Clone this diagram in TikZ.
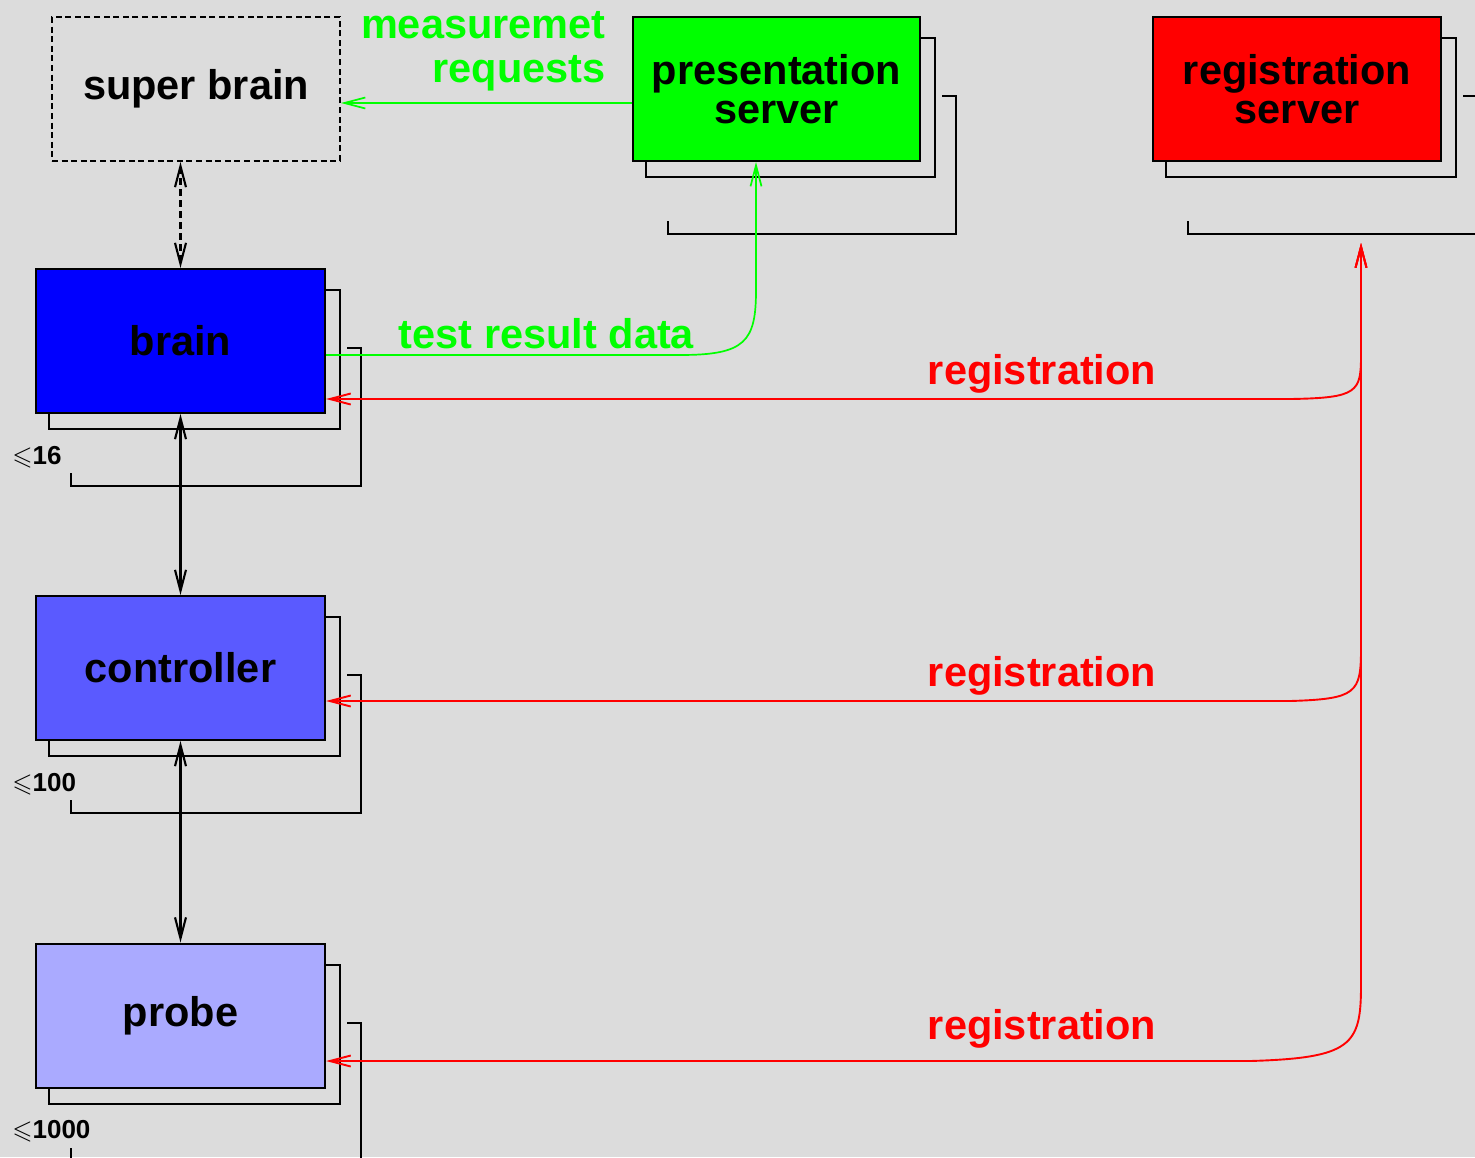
\documentclass[tikz,border=0pt]{standalone}
\usepackage{fontspec}
\usepackage{amssymb}
\setmainfont{Liberation Sans}
\usetikzlibrary{arrows.meta,calc}

\definecolor{canvas}{RGB}{220,220,220}
\definecolor{brainblue}{RGB}{0,0,255}
\definecolor{ctrlblue}{RGB}{90,90,255}
\definecolor{probeblue}{RGB}{170,170,255}
\definecolor{linkgreen}{RGB}{0,255,0}
\definecolor{linkred}{RGB}{255,0,0}

\newcommand\boxfont{\fontsize{20.75pt}{19.5pt}\selectfont\bfseries}
\newcommand\lblfont{\fontsize{20.75pt}{21.5pt}\selectfont\bfseries}
\newcommand\cntfont{\fontsize{13pt}{15pt}\selectfont\bfseries}

\tikzset{
  unitbox/.style={draw=black, line width=1pt, minimum width=144.5pt,
    minimum height=72pt, inner sep=0pt, font=\boxfont, align=center},
  layer/.style={draw=black, line width=1pt},
  tipv/.tip={Straight Barb[length=10.5pt,width=5.5pt]},
  link/.style={draw=black, line width=1.05pt, tipv-tipv},
  greenlink/.style={draw=linkgreen, line width=0.85pt, -tipv},
  reglink/.style={draw=linkred, line width=0.95pt, tipv-tipv},
  greenlbl/.style={text=linkgreen, font=\lblfont, inner sep=0pt},
  redlbl/.style={text=linkred, font=\lblfont, inner sep=0pt},
  cntlbl/.style={font=\cntfont, inner sep=0pt, anchor=base west},
}

% shadow outlines of the stacked copies behind a box
\newcommand\stackback[1]{%
  \draw[layer] ($(#1.north east)+(0,22)$) -- ($(#1.north east)+(14,22)$)
    -- ($(#1.south east)+(14,15)$) -- ($(#1.south west)+(14,15)$)
    -- ($(#1.south west)+(14,0)$);
  \draw[layer] ($(#1.north east)+(21,80)$) -- ($(#1.north east)+(35,80)$)
    -- ($(#1.south east)+(35,72)$) -- ($(#1.south west)+(36,72)$)
    -- ($(#1.south west)+(36,59)$);
}

\begin{document}
\begin{tikzpicture}[x=0.5pt,y=-0.5pt]
  \clip (0,0) rectangle (1475,1157);
  \fill[canvas] (0,0) rectangle (1475,1157);

  % boxes
  \node[unitbox, dashed, dash pattern=on 3pt off 1.8pt, minimum width=144pt]
    (superbrain) at (196,89) {super brain};
  \node[unitbox, fill=linkgreen, minimum width=143.5pt]
    (pres) at (776.5,89) {presentation\\server};
  \node[unitbox, fill=linkred, minimum width=144pt]
    (reg) at (1297,89) {registration\\server};
  \node[unitbox, fill=brainblue] (brain) at (180.5,341) {brain};
  \node[unitbox, fill=ctrlblue] (ctrl) at (180.5,668) {controller};
  \node[unitbox, fill=probeblue] (probe) at (180.5,1015.5) {probe};

  \stackback{pres}
  \stackback{reg}
  \stackback{brain}
  \stackback{ctrl}
  \stackback{probe}

  % multiplicities
  \node[cntlbl] (n16) at ($(brain.south west)+(-23,50)$) {$\leqslant$16};
  \node[cntlbl] (n100) at ($(ctrl.south west)+(-23,50)$) {$\leqslant$100};
  \node[cntlbl] (n1000) at ($(probe.south west)+(-23,50)$) {$\leqslant$1000};

  % hierarchy links
  \draw[link, dashed, dash pattern=on 3.5pt off 2pt]
    (brain.north |- superbrain.south) -- (brain.north);
  \draw[link] (brain.south) -- (ctrl.north);
  \draw[link] (ctrl.south) -- (probe.north);

  % measurement requests
  \coordinate (mreq) at (0,103);
  \draw[greenlink] (pres.west |- mreq) -- (superbrain.east |- mreq);
  \node[greenlbl, anchor=base east] (mlbl1) at (606,38) {measuremet};
  \node[greenlbl, anchor=base east] (mlbl2) at (606,82) {requests};

  % test result data
  \coordinate (tres) at (0,355);
  \coordinate (tcol) at (756,0);
  \draw[greenlink] (brain.east |- tres) -- (680,355)
    .. controls (745,355) and (756,342) .. (756,290) -- (tcol |- pres.south);
  \node[greenlbl, anchor=base] (tlbl) at (546.5,348) {test result data};

  % registration
  \coordinate (regin) at (1361,243);
  \coordinate (rb) at (0,399);
  \coordinate (rc) at (0,701);
  \coordinate (rp) at (0,1061);
  \draw[reglink] (brain.east |- rb) -- (1290,399)
    .. controls (1358,398) and (1361,392) .. (1361,355) -- (regin);
  \draw[reglink] (ctrl.east |- rc) -- (1290,701)
    .. controls (1357,699) and (1361,693) .. (1361,648) -- (regin);
  \draw[reglink] (probe.east |- rp) -- (1250,1061)
    .. controls (1352,1058) and (1361,1045) .. (1361,985) -- (regin);
  \node[redlbl, anchor=base] (rl1) at (1042,384) {registration};
  \node[redlbl, anchor=base] (rl2) at (1042,686) {registration};
  \node[redlbl, anchor=base] (rl3) at (1042,1039) {registration};
\end{tikzpicture}
\end{document}
